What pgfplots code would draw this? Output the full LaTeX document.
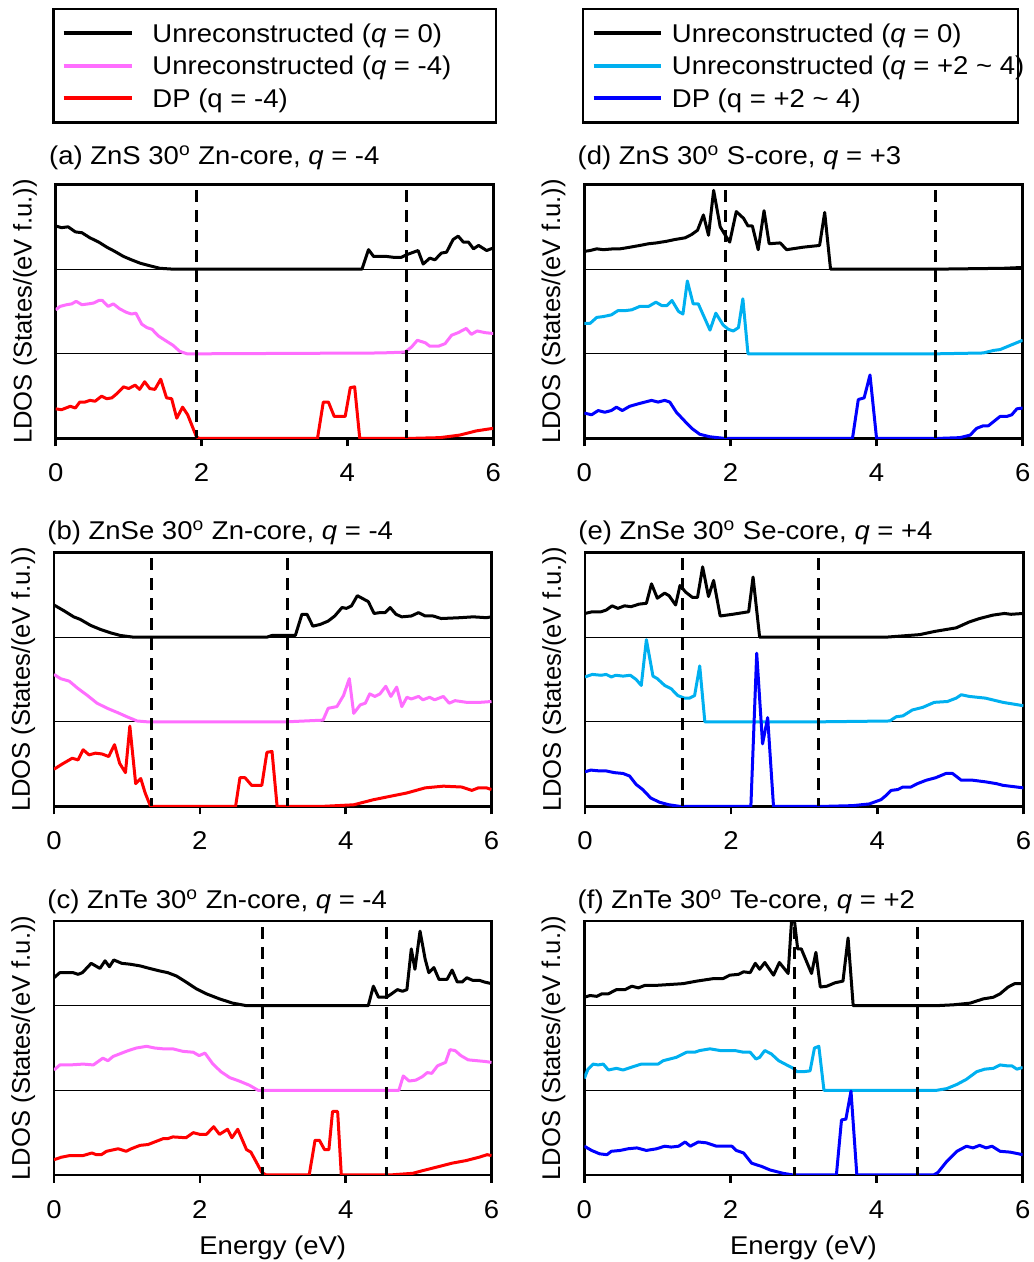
\documentclass[border=0pt]{standalone}
\usepackage{pgfplots}
\pgfplotsset{compat=1.18}
\usepackage{fontspec}
\setmainfont{Liberation Sans}[FakeStretch=1.07]
\newfontfamily\ylfont{Liberation Sans}
\newcommand\mainfs{\fontsize{12.85}{15}\selectfont}
\definecolor{pinkc}{RGB}{255,110,255}
\definecolor{cyanc}{RGB}{0,176,240}
\definecolor{bluec}{RGB}{0,0,255}
\definecolor{redc}{RGB}{255,0,0}
\pgfplotsset{
  ldos/.style={
    scale only axis, width=218.75pt, height=127pt, anchor=south west,
    xmin=0, xmax=6, ymin=0, ymax=3,
    xtick={0,2,4,6}, ytick=\empty, xtick pos=left,
    tick align=outside, major tick length=4pt,
    axis line style={line width=1.4pt},
    every tick/.style={black, line width=1.3pt},
    /pgf/number format/assume math mode=true,
    tick label style={font=\mainfs},
    xticklabel style={anchor=base, yshift=-17.7pt},
    ylabel={\ylfont\fontsize{12.8}{15}\selectfont LDOS (States/(eV f.u.))},
    ylabel style={at={(axis description cs:-0.055,0.5)}, anchor=base},
    title style={at={(axis description cs:0,1)}, anchor=base west, inner sep=0pt, xshift=-3.5pt, yshift=0.5pt, font=\mainfs},
    xlabel style={at={(axis description cs:0.5,0)}, anchor=base, yshift=-39.5pt, font=\mainfs},
  },
  cur/.style={line width=1.5pt, line join=round},
  base/.style={black, line width=0.5pt, forget plot},
  dsh/.style={black, line width=1.5pt, dash pattern=on 6pt off 4pt, dash phase=7pt, forget plot},
  legleft/.style={
    legend style={at={(axis description cs:-0.0078,1.695)}, anchor=north west, draw=black, line width=1.2pt, fill=white,
      inner xsep=0pt, inner ysep=4pt, row sep=0pt, column sep=0pt, font=\mainfs,
      nodes={inner sep=0pt, text height=12.7pt, text depth=3.5pt}, cells={anchor=west}},
    legend image code/.code={\path (0pt,0pt) (48pt,0pt); \draw[##1,line width=2pt,solid] (4.35pt,0pt) -- (38.35pt,0pt);},
  },
  legright/.style={
    legend style={at={(axis description cs:-0.0059,1.695)}, anchor=north west, draw=black, line width=1.2pt, fill=white,
      inner xsep=0pt, inner ysep=4pt, row sep=0pt, column sep=0pt, font=\mainfs,
      nodes={inner sep=0pt, text height=12.7pt, text depth=3.5pt}, cells={anchor=west}},
    legend image code/.code={\path (0pt,0pt) (43pt,0pt); \draw[##1,line width=2pt,solid] (4.65pt,0pt) -- (38.15pt,0pt);},
  },
}
\begin{document}
\begin{tikzpicture}
\useasboundingbox (0,0) rectangle (516.5pt,631pt);
% ---------------- (a)
\begin{axis}[ldos, at={(27.85pt,411.75pt)}, title={(a) ZnS 30\textsuperscript{o} Zn-core, \textit{q} = -4}, title style={yshift=3.5pt}, legleft]
\addplot[base] coordinates {(0,1) (6,1)};
\addplot[base] coordinates {(0,2) (6,2)};
\addplot[cur, black] coordinates {(0,2.51)(0.08,2.49)(0.17,2.50)(0.27,2.44)(0.36,2.43)(0.47,2.37)(0.59,2.32)(0.70,2.26)(0.81,2.21)(0.93,2.15)(1.04,2.11)(1.16,2.07)(1.29,2.04)(1.43,2.01)(1.61,2.00)(1.93,2.0)(4.20,2.0)(4.29,2.23)(4.36,2.15)(4.54,2.15)(4.63,2.14)(4.74,2.14)(4.81,2.17)(4.97,2.22)(5.04,2.06)(5.13,2.13)(5.20,2.11)(5.29,2.19)(5.36,2.20)(5.45,2.35)(5.52,2.39)(5.59,2.32)(5.66,2.32)(5.73,2.24)(5.80,2.28)(5.91,2.22)(6.0,2.25)};
\addlegendentry{\makebox[171.8pt][l]{Unreconstructed (\textit{q} = 0)}}
\addplot[cur, pinkc] coordinates {(0,1.52)(0.06,1.56)(0.15,1.58)(0.22,1.59)(0.28,1.62)(0.36,1.58)(0.45,1.59)(0.52,1.60)(0.59,1.63)(0.64,1.63)(0.72,1.56)(0.79,1.59)(0.88,1.53)(0.97,1.49)(1.04,1.47)(1.10,1.48)(1.18,1.35)(1.25,1.31)(1.32,1.29)(1.41,1.21)(1.50,1.16)(1.61,1.10)(1.70,1.03)(1.80,1.00)(1.93,1.0)(4.45,1.01)(4.79,1.02)(4.88,1.08)(4.96,1.16)(5.07,1.13)(5.13,1.09)(5.25,1.09)(5.34,1.12)(5.43,1.22)(5.52,1.25)(5.63,1.30)(5.70,1.23)(5.78,1.27)(5.89,1.25)(6.0,1.24)};
\addlegendentry{Unreconstructed (\textit{q} = -4)}
\addplot[cur, redc] coordinates {(0,0.35)(0.08,0.34)(0.20,0.38)(0.27,0.36)(0.33,0.43)(0.40,0.43)(0.47,0.45)(0.54,0.44)(0.63,0.50)(0.70,0.47)(0.77,0.48)(0.84,0.53)(0.93,0.61)(1.00,0.59)(1.09,0.63)(1.15,0.58)(1.22,0.67)(1.29,0.59)(1.36,0.58)(1.44,0.70)(1.52,0.48)(1.59,0.47)(1.66,0.24)(1.74,0.37)(1.81,0.28)(1.93,0.02)(1.97,0)(3.59,0)(3.67,0.43)(3.74,0.43)(3.82,0.26)(3.97,0.26)(4.04,0.60)(4.10,0.61)(4.17,0)(4.81,0)(5.27,0.01)(5.54,0.04)(5.77,0.09)(6.0,0.12)};
\addlegendentry{DP (q = -4)}
\addplot[dsh] coordinates {(1.93,3) (1.93,0)};
\addplot[dsh] coordinates {(4.81,3) (4.81,0)};
\end{axis}
% ---------------- (d)
\begin{axis}[ldos, width=219.2pt, at={(292.15pt,411.75pt)}, title={(d) ZnS 30\textsuperscript{o} S-core, \textit{q} = +3}, title style={yshift=3.5pt}, legright]
\addplot[base] coordinates {(0,1) (6,1)};
\addplot[base] coordinates {(0,2) (6,2)};
\addplot[cur, black] coordinates {(0,2.21)(0.08,2.22)(0.17,2.24)(0.26,2.23)(0.40,2.24)(0.49,2.24)(0.63,2.26)(0.76,2.28)(0.88,2.30)(0.99,2.31)(1.13,2.33)(1.24,2.35)(1.38,2.37)(1.47,2.41)(1.55,2.46)(1.63,2.64)(1.70,2.40)(1.77,2.93)(1.86,2.50)(1.93,2.40)(1.99,2.32)(2.08,2.68)(2.18,2.60)(2.24,2.51)(2.30,2.51)(2.38,2.23)(2.46,2.69)(2.53,2.30)(2.68,2.31)(2.77,2.23)(3.00,2.26)(3.22,2.28)(3.29,2.67)(3.37,2.0)(4.82,2.0)(5.73,2.01)(6.0,2.02)};
\addlegendentry{\makebox[173pt][l]{Unreconstructed (\textit{q} = 0)}}
\addplot[cur, cyanc] coordinates {(0,1.36)(0.08,1.36)(0.17,1.43)(0.26,1.44)(0.37,1.46)(0.46,1.51)(0.56,1.51)(0.65,1.52)(0.76,1.56)(0.88,1.56)(0.98,1.61)(1.06,1.57)(1.13,1.57)(1.20,1.63)(1.29,1.50)(1.35,1.47)(1.41,1.86)(1.49,1.59)(1.56,1.59)(1.72,1.28)(1.80,1.48)(1.90,1.34)(1.97,1.29)(2.04,1.27)(2.11,1.31)(2.17,1.65)(2.24,1.0)(4.82,1.0)(5.46,1.01)(5.60,1.04)(5.69,1.05)(5.83,1.10)(6.0,1.16)};
\addlegendentry{\makebox[173pt][l]{Unreconstructed (\textit{q} = +2 \char`~\ 4)}}
\addplot[cur, bluec] coordinates {(0,0.30)(0.10,0.28)(0.19,0.33)(0.28,0.31)(0.37,0.33)(0.44,0.37)(0.52,0.33)(0.62,0.38)(0.74,0.41)(0.83,0.43)(0.92,0.45)(1.01,0.43)(1.10,0.45)(1.17,0.43)(1.26,0.31)(1.38,0.20)(1.47,0.12)(1.58,0.05)(1.72,0.02)(1.93,0.0)(3.67,0)(3.75,0.46)(3.83,0.48)(3.91,0.75)(4.00,0)(4.82,0)(5.14,0.01)(5.28,0.04)(5.37,0.12)(5.46,0.15)(5.53,0.15)(5.69,0.26)(5.78,0.26)(5.85,0.28)(5.92,0.35)(6.0,0.36)};
\addlegendentry{DP (q = +2 \char`~\ 4)}
\addplot[dsh] coordinates {(1.93,3) (1.93,0)};
\addplot[dsh] coordinates {(4.80,3) (4.80,0)};
\end{axis}
% ---------------- (b)
\begin{axis}[ldos, at={(27.0pt,227.75pt)}, title={(b) ZnSe 30\textsuperscript{o} Zn-core, \textit{q} = -4}]
\addplot[base] coordinates {(0,1) (6,1)};
\addplot[base] coordinates {(0,2) (6,2)};
\addplot[cur, black] coordinates {(0,2.38)(0.14,2.31)(0.27,2.24)(0.36,2.21)(0.50,2.14)(0.64,2.09)(0.78,2.05)(0.91,2.02)(1.09,2.0)(1.32,2.0)(2.92,2.0)(2.99,2.02)(3.31,2.02)(3.40,2.27)(3.47,2.27)(3.55,2.13)(3.65,2.15)(3.76,2.19)(3.85,2.25)(3.95,2.35)(4.01,2.34)(4.08,2.37)(4.16,2.49)(4.31,2.42)(4.39,2.28)(4.47,2.29)(4.54,2.29)(4.61,2.35)(4.69,2.27)(4.77,2.24)(4.90,2.25)(5.00,2.29)(5.09,2.25)(5.20,2.25)(5.31,2.22)(5.57,2.23)(5.75,2.24)(5.93,2.23)(6.0,2.24)};
\addplot[cur, pinkc] coordinates {(0,1.56)(0.09,1.51)(0.21,1.48)(0.32,1.40)(0.46,1.31)(0.59,1.22)(0.73,1.16)(0.87,1.11)(1.00,1.06)(1.14,1.01)(1.28,1.0)(2.78,1.0)(3.19,1.0)(3.69,1.02)(3.76,1.16)(3.88,1.18)(3.97,1.31)(4.05,1.51)(4.11,1.10)(4.20,1.20)(4.27,1.22)(4.33,1.33)(4.40,1.30)(4.47,1.33)(4.55,1.42)(4.62,1.30)(4.70,1.41)(4.77,1.18)(4.84,1.29)(4.90,1.27)(5.00,1.30)(5.06,1.26)(5.15,1.29)(5.22,1.26)(5.34,1.30)(5.42,1.22)(5.50,1.25)(5.66,1.23)(5.84,1.23)(6.0,1.24)};
\addplot[cur, redc] coordinates {(0,0.44)(0.11,0.50)(0.25,0.57)(0.33,0.55)(0.40,0.67)(0.48,0.61)(0.57,0.63)(0.66,0.62)(0.75,0.59)(0.83,0.73)(0.90,0.51)(0.98,0.40)(1.04,0.95)(1.12,0.27)(1.19,0.33)(1.25,0.16)(1.32,0.01)(1.34,0)(2.49,0)(2.55,0.34)(2.62,0.34)(2.71,0.25)(2.85,0.25)(2.92,0.64)(2.99,0.65)(3.06,0)(3.65,0)(4.11,0.02)(4.38,0.08)(4.61,0.12)(4.84,0.16)(5.09,0.22)(5.34,0.24)(5.59,0.23)(5.73,0.19)(5.82,0.22)(5.93,0.22)(6.0,0.20)};
\addplot[dsh] coordinates {(1.34,3) (1.34,0)};
\addplot[dsh] coordinates {(3.20,3) (3.20,0)};
\end{axis}
% ---------------- (e)
\begin{axis}[ldos, width=219.2pt, at={(292.5pt,227.75pt)}, title={(e) ZnSe 30\textsuperscript{o} Se-core, \textit{q} = +4}]
\addplot[base] coordinates {(0,1) (6,1)};
\addplot[base] coordinates {(0,2) (6,2)};
\addplot[cur, black] coordinates {(0,2.28)(0.10,2.30)(0.22,2.30)(0.29,2.32)(0.37,2.37)(0.45,2.34)(0.54,2.37)(0.63,2.36)(0.74,2.39)(0.84,2.40)(0.91,2.63)(0.99,2.46)(1.09,2.52)(1.15,2.49)(1.24,2.38)(1.30,2.61)(1.38,2.53)(1.47,2.47)(1.54,2.47)(1.61,2.83)(1.69,2.48)(1.76,2.67)(1.85,2.25)(2.02,2.27)(2.24,2.30)(2.30,2.71)(2.39,2.0)(3.21,2.0)(4.12,2.0)(4.58,2.03)(4.80,2.07)(5.08,2.11)(5.26,2.18)(5.40,2.22)(5.58,2.26)(5.74,2.28)(5.83,2.27)(6.0,2.28)};
\addplot[cur, cyanc] coordinates {(0,1.53)(0.10,1.56)(0.22,1.55)(0.29,1.56)(0.36,1.53)(0.42,1.55)(0.52,1.54)(0.62,1.55)(0.70,1.50)(0.77,1.43)(0.84,1.97)(0.93,1.54)(0.99,1.51)(1.09,1.43)(1.18,1.39)(1.27,1.31)(1.36,1.28)(1.43,1.28)(1.50,1.31)(1.57,1.66)(1.64,1.0)(3.21,1.0)(4.17,1.01)(4.26,1.06)(4.35,1.07)(4.48,1.14)(4.62,1.17)(4.78,1.23)(4.96,1.24)(5.08,1.28)(5.15,1.32)(5.26,1.30)(5.48,1.28)(5.72,1.23)(6.0,1.19)};
\addplot[cur, bluec] coordinates {(0,0.41)(0.08,0.43)(0.20,0.42)(0.29,0.42)(0.40,0.40)(0.52,0.39)(0.61,0.36)(0.70,0.26)(0.79,0.20)(0.90,0.10)(1.02,0.05)(1.15,0.02)(1.31,0)(2.27,0)(2.35,1.81)(2.43,0.74)(2.50,1.05)(2.58,0)(3.21,0)(3.66,0.01)(3.89,0.03)(4.05,0.08)(4.12,0.13)(4.19,0.19)(4.28,0.20)(4.35,0.23)(4.46,0.23)(4.55,0.27)(4.67,0.31)(4.80,0.34)(4.94,0.39)(5.03,0.39)(5.15,0.31)(5.31,0.31)(5.49,0.29)(5.63,0.27)(5.72,0.25)(6.0,0.22)};
\addplot[dsh] coordinates {(1.34,3) (1.34,0)};
\addplot[dsh] coordinates {(3.20,3) (3.20,0)};
\end{axis}
% ---------------- (c)
\begin{axis}[ldos, at={(27.0pt,43.5pt)}, title={(c) ZnTe 30\textsuperscript{o} Zn-core, \textit{q} = -4}, xlabel={Energy (eV)}]
\addplot[base] coordinates {(0,1) (6,1)};
\addplot[base] coordinates {(0,2) (6,2)};
\addplot[cur, black] coordinates {(0,2.33)(0.08,2.39)(0.17,2.39)(0.26,2.39)(0.33,2.37)(0.39,2.39)(0.51,2.50)(0.63,2.44)(0.70,2.53)(0.76,2.46)(0.82,2.54)(0.93,2.50)(1.04,2.49)(1.18,2.47)(1.31,2.44)(1.45,2.41)(1.56,2.39)(1.68,2.35)(1.81,2.28)(1.95,2.20)(2.09,2.14)(2.27,2.08)(2.45,2.03)(2.64,2.0)(2.86,2.0)(4.31,2.0)(4.38,2.23)(4.45,2.10)(4.56,2.10)(4.63,2.14)(4.71,2.19)(4.78,2.17)(4.84,2.19)(4.90,2.67)(4.95,2.43)(5.02,2.88)(5.09,2.55)(5.14,2.39)(5.21,2.45)(5.28,2.31)(5.39,2.31)(5.46,2.42)(5.53,2.28)(5.60,2.28)(5.66,2.33)(5.74,2.30)(5.83,2.30)(5.90,2.28)(6.0,2.26)};
\addplot[cur, pinkc] coordinates {(0,1.24)(0.08,1.30)(0.22,1.30)(0.40,1.31)(0.54,1.30)(0.67,1.38)(0.74,1.35)(0.81,1.40)(0.93,1.44)(1.02,1.47)(1.13,1.50)(1.27,1.52)(1.38,1.50)(1.50,1.49)(1.63,1.49)(1.77,1.46)(1.91,1.45)(1.99,1.41)(2.07,1.44)(2.18,1.31)(2.29,1.22)(2.41,1.15)(2.54,1.11)(2.68,1.06)(2.80,1.0)(2.86,1.0)(4.73,1.0)(4.79,1.17)(4.87,1.11)(4.96,1.12)(5.05,1.16)(5.12,1.21)(5.18,1.20)(5.26,1.29)(5.37,1.33)(5.43,1.48)(5.50,1.47)(5.58,1.41)(5.68,1.36)(5.80,1.35)(5.92,1.34)(6.0,1.33)};
\addplot[cur, redc] coordinates {(0,0.18)(0.10,0.21)(0.22,0.23)(0.40,0.23)(0.52,0.26)(0.58,0.24)(0.65,0.24)(0.72,0.28)(0.88,0.31)(0.99,0.28)(1.06,0.31)(1.18,0.35)(1.29,0.36)(1.38,0.39)(1.50,0.43)(1.56,0.43)(1.63,0.45)(1.81,0.44)(1.91,0.50)(2.00,0.48)(2.09,0.48)(2.19,0.57)(2.27,0.48)(2.38,0.54)(2.44,0.44)(2.52,0.54)(2.64,0.30)(2.70,0.27)(2.77,0.16)(2.85,0.03)(2.91,0)(3.50,0)(3.58,0.41)(3.64,0.41)(3.71,0.30)(3.77,0.30)(3.82,0.75)(3.89,0.75)(3.94,0)(4.60,0)(4.92,0.02)(5.05,0.05)(5.28,0.10)(5.46,0.14)(5.65,0.17)(5.83,0.21)(5.94,0.24)(6.0,0.23)};
\addplot[dsh] coordinates {(2.86,3) (2.86,0)};
\addplot[dsh] coordinates {(4.56,3) (4.56,0)};
\end{axis}
% ---------------- (f)
\begin{axis}[ldos, width=219.2pt, at={(292.15pt,43.5pt)}, title={(f) ZnTe 30\textsuperscript{o} Te-core, \textit{q} = +2}, xlabel={Energy (eV)}]
\addplot[base] coordinates {(0,1) (6,1)};
\addplot[base] coordinates {(0,2) (6,2)};
\addplot[cur, black] coordinates {(0,2.10)(0.08,2.12)(0.17,2.11)(0.24,2.14)(0.33,2.14)(0.44,2.19)(0.56,2.19)(0.65,2.23)(0.74,2.21)(0.83,2.24)(0.99,2.24)(1.17,2.25)(1.35,2.26)(1.54,2.29)(1.77,2.32)(1.90,2.32)(1.99,2.36)(2.11,2.37)(2.18,2.40)(2.27,2.39)(2.34,2.50)(2.40,2.43)(2.47,2.51)(2.59,2.36)(2.67,2.51)(2.79,2.38)(2.84,3.05)(2.87,3.05)(2.92,2.67)(2.97,2.67)(3.11,2.38)(3.17,2.63)(3.23,2.22)(3.32,2.23)(3.43,2.27)(3.54,2.29)(3.61,2.80)(3.68,2.0)(4.82,2.0)(5.05,2.01)(5.28,2.03)(5.46,2.08)(5.60,2.10)(5.69,2.14)(5.80,2.22)(5.89,2.26)(6.0,2.26)};
\addplot[cur, cyanc] coordinates {(0,1.14)(0.05,1.25)(0.12,1.31)(0.19,1.30)(0.26,1.31)(0.33,1.24)(0.44,1.26)(0.53,1.24)(0.67,1.28)(0.78,1.31)(0.90,1.31)(1.01,1.31)(1.08,1.35)(1.17,1.37)(1.26,1.39)(1.40,1.45)(1.51,1.45)(1.58,1.47)(1.72,1.49)(1.86,1.47)(1.97,1.47)(2.06,1.47)(2.18,1.45)(2.27,1.45)(2.35,1.37)(2.40,1.39)(2.47,1.47)(2.56,1.43)(2.66,1.35)(2.77,1.30)(2.86,1.26)(2.91,1.22)(3.00,1.22)(3.09,1.23)(3.15,1.50)(3.21,1.52)(3.28,1.0)(4.82,1.0)(4.96,1.02)(5.10,1.07)(5.23,1.13)(5.37,1.22)(5.48,1.25)(5.60,1.26)(5.69,1.30)(5.78,1.29)(5.85,1.29)(5.92,1.25)(6.0,1.27)};
\addplot[cur, bluec] coordinates {(0,0.34)(0.10,0.29)(0.21,0.25)(0.31,0.24)(0.37,0.28)(0.49,0.29)(0.60,0.31)(0.72,0.32)(0.85,0.29)(0.99,0.31)(1.10,0.34)(1.19,0.33)(1.29,0.34)(1.38,0.39)(1.45,0.34)(1.56,0.39)(1.67,0.38)(1.81,0.34)(1.93,0.34)(2.02,0.34)(2.08,0.29)(2.18,0.26)(2.29,0.14)(2.43,0.10)(2.54,0.06)(2.72,0.02)(2.86,0)(3.45,0)(3.52,0.65)(3.58,0.66)(3.65,0.99)(3.73,0)(4.78,0)(4.84,0.03)(4.96,0.16)(5.10,0.28)(5.23,0.34)(5.32,0.32)(5.41,0.35)(5.50,0.32)(5.58,0.34)(5.69,0.28)(5.83,0.27)(6.0,0.24)};
\addplot[dsh] coordinates {(2.87,3) (2.87,0)};
\addplot[dsh] coordinates {(4.56,3) (4.56,0)};
\end{axis}
\end{tikzpicture}
\end{document}
